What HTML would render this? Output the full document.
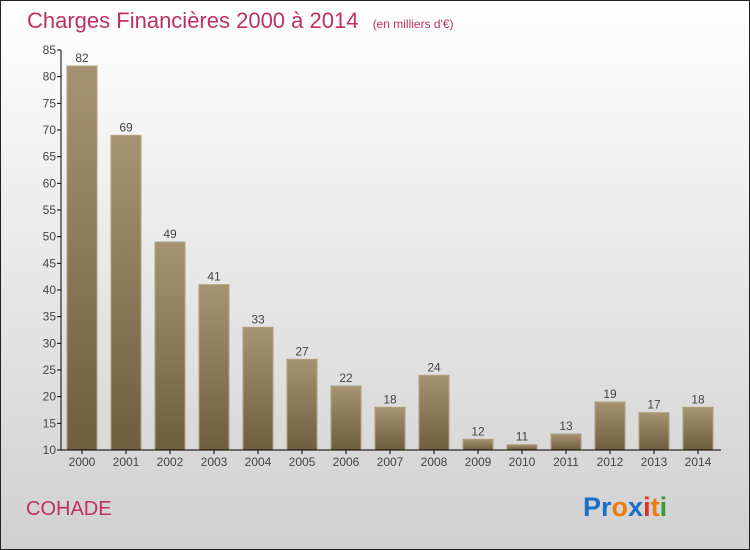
<!DOCTYPE html>
<html><head><meta charset="utf-8"><style>
body{margin:0;width:750px;height:550px;overflow:hidden}
svg{display:block;font-family:"Liberation Sans",sans-serif}
</style></head><body>
<svg id="c" width="750" height="550">
<defs>
<linearGradient id="bg" x1="0" y1="0" x2="0" y2="1"><stop offset="0" stop-color="#ffffff"/><stop offset="1" stop-color="#d0d0d0"/></linearGradient>
<linearGradient id="bar" x1="0" y1="0" x2="0" y2="1"><stop offset="0" stop-color="#a69372"/><stop offset="1" stop-color="#6f5d40"/></linearGradient>
</defs>
<rect x="0.5" y="0.5" width="749" height="549" fill="url(#bg)" stroke="#222"/>
<text x="27" y="28" font-size="22" fill="#c0305f">Charges Financières 2000 à 2014 <tspan font-size="12" dx="8">(en milliers d'€)</tspan></text>
<text x="26" y="515" font-size="20" fill="#c0305f">COHADE</text>
<text x="583" y="516" font-size="27" font-weight="bold"><tspan fill="#1a6fc9">Pr</tspan><tspan fill="#f07a10">o</tspan><tspan fill="#1a6fc9">x</tspan><tspan fill="#e03020">i</tspan><tspan fill="#f07a10">t</tspan><tspan fill="#3a9a3a">i</tspan></text>
<g id="plot"></g>
</svg>
<script>
const years=["2000","2001","2002","2003","2004","2005","2006","2007","2008","2009","2010","2011","2012","2013","2014"];
const values=[82,69,49,41,33,27,22,18,24,12,11,13,19,17,18];
const yTicks=[10,15,20,25,30,35,40,45,50,55,60,65,70,75,80,85];
const NS="http://www.w3.org/2000/svg";
const g=document.getElementById('plot');
const y=v=>450-(v-10)*400/75;
const x=i=>82+i*44;
function mk(t,a,txt){const e=document.createElementNS(NS,t);for(const k in a)e.setAttribute(k,a[k]);if(txt!==undefined)e.textContent=txt;g.appendChild(e);return e;}
let ax=mk('line',{x1:61,y1:y(85),x2:61,y2:450,stroke:'#000'});


yTicks.forEach(t=>{
 const l=mk('line',{x1:57,x2:61,y1:y(t),y2:y(t),stroke:'#000'});
 
 
 const tx=mk('text',{x:56,y:y(t)+4,'font-size':12,fill:'#444','text-anchor':'end'},t);
 
 
});
years.forEach((yr,i)=>{
 const v=values[i];
 const r=mk('rect',{x:x(i)-15,y:y(v),width:30,height:450-y(v),fill:'url(#bar)',stroke:'#b0a080','stroke-width':1});
 
 
 const vl=mk('text',{x:x(i),y:y(v)-4,'font-size':12,fill:'#444','text-anchor':'middle'},v);
 
 
 const tk=mk('line',{x1:x(i),x2:x(i),y1:450,y2:454,stroke:'#000'});
 
 
 const xl=mk('text',{x:x(i),y:466,'font-size':12,fill:'#444','text-anchor':'middle'},yr);
 
 
});
const xa=mk('line',{x1:61,y1:450,x2:721,y2:450,stroke:'#000'});


</script>
</body></html>
